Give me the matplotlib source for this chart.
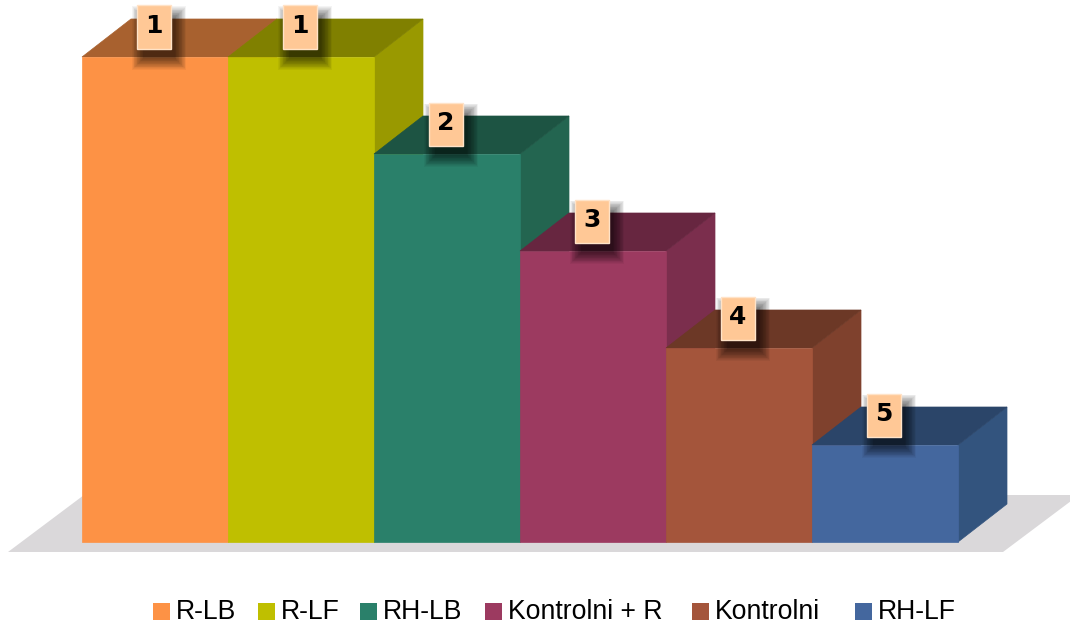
import matplotlib
matplotlib.use("Agg")
import matplotlib.pyplot as plt
from matplotlib.patches import Polygon, Rectangle

# ---- data ----
categories = ["R-LB", "R-LF", "RH-LB", "Kontrolni + R", "Kontrolni", "RH-LF"]
heights = [5, 5, 4, 3, 2, 1]
rank_labels = ["1", "1", "2", "3", "4", "5"]

front_colors = ["#FD9245", "#BFBF00", "#2A806A", "#9C3A60", "#A4553B", "#44679E"]
top_colors = ["#A8612F", "#808000", "#1D5443", "#672640", "#6C3826", "#2B4569"]
side_colors = ["#BE6E35", "#999900", "#236550", "#7B2E4D", "#7F412D", "#33547E"]

# ---- figure ----
W, H = 1070, 624
fig = plt.figure(figsize=(W / 100, H / 100), dpi=100)
ax = fig.add_axes([0, 0, 1, 1])
ax.axis("off")

# data scale: 1 category = 146 px, 1 value = 97 px; origin at (82, 542) px
px_x, px_y = 146.0, 97.0
x0_px, y0_px = 82.0, 542.0
ax.set_xlim(-x0_px / px_x, (W - x0_px) / px_x)
ax.set_ylim((y0_px - H) / px_y, y0_px / px_y)

dx, dy = 49 / px_x, 38 / px_y  # bar depth offset

# floor
fdx, fdy = 76 / px_x, 57 / px_y
f_front = -10 / px_y
fl, fr = (8 - x0_px) / px_x, (1003 - x0_px) / px_x
ax.add_patch(Polygon([(fl, f_front), (fr, f_front), (fr + fdx, f_front + fdy),
                      (fl + fdx, f_front + fdy)], closed=True,
                     facecolor="#DAD8DA", edgecolor="none", zorder=1))

bw = 1.0
for i, (h, fc, tc, sc) in enumerate(zip(heights, front_colors, top_colors, side_colors)):
    x = i * bw
    z = 2 + i * 0.1
    ax.add_patch(Polygon([(x + bw, 0), (x + bw + dx, dy), (x + bw + dx, h + dy), (x + bw, h)],
                         closed=True, facecolor=sc, edgecolor=sc, lw=0.5, zorder=z))
    ax.add_patch(Polygon([(x, h), (x + bw, h), (x + bw + dx, h + dy), (x + dx, h + dy)],
                         closed=True, facecolor=tc, edgecolor=tc, lw=0.5, zorder=z))
    ax.add_patch(Rectangle((x, 0), bw, h, facecolor=fc, edgecolor=fc, lw=0.5, zorder=z + 0.01))

# label boxes
bwid, bhei = 34 / px_x, 43 / px_y
for i, (h, lab) in enumerate(zip(heights, rank_labels)):
    cx = i * bw + 0.5 * bw - 1 / px_x
    cy = h + 30 / px_y
    # soft blurred shadow (offset right / down)
    n = 16
    for k in range(n):
        grow = 10 - k * 0.75
        ax.add_patch(Rectangle((cx - bwid / 2 + (5 - grow) / px_x,
                                cy - bhei / 2 - (11 + grow) / px_y),
                               bwid + 2 * grow / px_x, bhei + 2 * grow / px_y,
                               facecolor="black", edgecolor="none", alpha=0.045, zorder=5))
    ax.add_patch(Rectangle((cx - bwid / 2, cy - bhei / 2), bwid, bhei,
                           facecolor="#FFC896", edgecolor="#FFE3C8", lw=1, zorder=6))
    ax.text(cx, cy + 1 / px_y, lab, ha="center", va="center", fontsize=18, fontweight="heavy",
            family="DejaVu Sans", color="black", zorder=7)

# legend (manual placement, pixel positions)
sq_left_px = [153, 258, 360, 485, 692, 855]
sq = 17
for xl, lab, col in zip(sq_left_px, categories, front_colors):
    fig.add_artist(Rectangle((xl / W, 1 - 620 / H), sq / W, sq / H,
                             transform=fig.transFigure, facecolor=col, edgecolor="none"))
    fig.text((xl + 23) / W, 1 - 612 / H, lab, ha="left", va="center",
             family="Liberation Sans", fontsize=19.2, color="black")

fig.savefig("out.png", dpi=100)
